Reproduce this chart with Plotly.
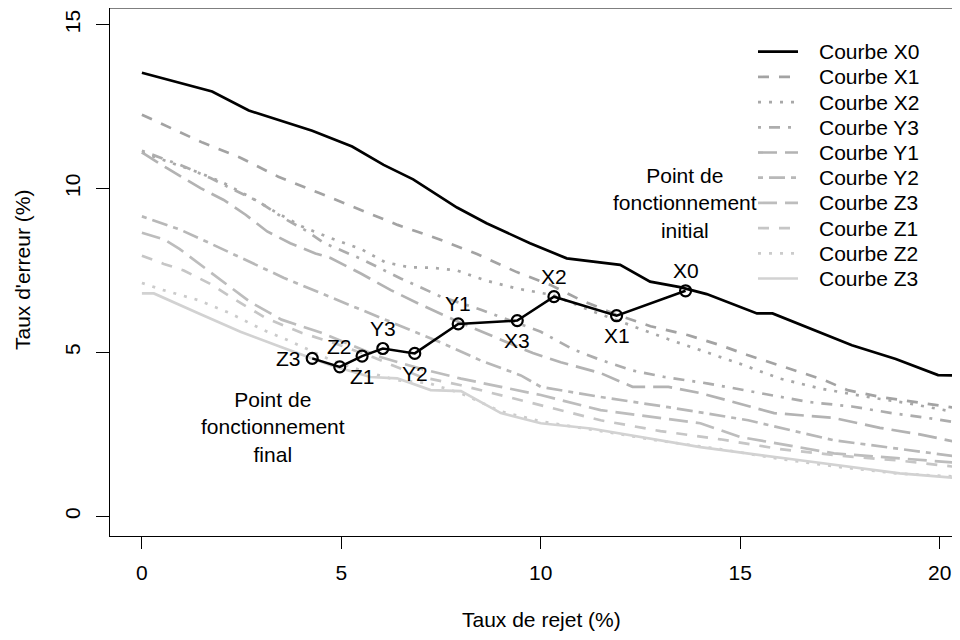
"""
Courbes taux d'erreur / taux de rejet avec points de fonctionnement
"""

import plotly.graph_objects as go

# Courbes (taux de rejet en %, taux d'erreur en %)
x0_rejet = [0, 1.76, 2.68, 4.27, 5.27, 6.06, 6.80, 7.9, 8.64, 9.73, 10.65, 11.32,
            11.99, 12.74, 13.49, 14.16, 15.42, 15.81, 17.8, 18.9, 19.96, 20.6]
x0_erreur = [13.53, 12.96, 12.38, 11.76, 11.28, 10.72, 10.28, 9.42, 8.94, 8.33, 7.87, 7.77,
             7.67, 7.16, 6.99, 6.78, 6.19, 6.19, 5.22, 4.8, 4.31, 4.29]

x1_rejet = [0, 0.54, 1.52, 2.47, 3.42, 4.43, 5.48, 6.41, 6.91, 7.5, 8.4, 9.4, 10.24,
            11.0, 11.9, 12.75, 13.68, 14.5, 15.18, 16.1, 17.1, 17.69, 18.52, 19.6, 20.6]
x1_erreur = [12.25, 11.95, 11.4, 10.94, 10.36, 9.87, 9.35, 8.89, 8.68, 8.43, 8.0, 7.45, 7.06,
             6.6, 6.15, 5.8, 5.53, 5.22, 4.92, 4.55, 4.16, 3.85, 3.64, 3.45, 3.27]

x2_rejet = [0, 0.7, 1.4, 2.0, 2.7, 3.4, 4.0, 4.7, 5.5, 6.1, 6.7, 7.3, 7.9, 8.6, 9.4,
            10.3, 11.2, 12.2, 13.2, 14.0, 15.0, 16.0, 17.0, 18.2, 19.2, 20.6]
x2_erreur = [11.1, 10.8, 10.5, 10.2, 9.75, 9.25, 8.85, 8.5, 8.15, 7.75, 7.6, 7.58, 7.5, 7.2, 6.95,
             6.75, 6.3, 5.85, 5.4, 5.07, 4.65, 4.2, 3.9, 3.64, 3.45, 3.13]

y3_rejet = [0, 0.96, 1.72, 2.22, 2.93, 3.55, 4.15, 4.56, 5.5, 6.5, 7.5, 8.5, 9.4, 10.0,
            10.8, 11.5, 12.3, 13.1, 14.2, 15.5, 16.7, 17.8, 18.8, 19.7, 20.6]
y3_erreur = [11.15, 10.72, 10.32, 10.01, 9.6, 9.1, 8.69, 8.34, 7.85, 7.25, 6.7, 6.3, 5.9, 5.63,
             5.1, 4.77, 4.45, 4.25, 4.05, 3.75, 3.49, 3.35, 3.15, 3.0, 2.83]

y1_rejet = [0, 0.63, 1.47, 2.05, 2.6, 3.14, 3.72, 4.35, 4.73, 5.5, 6.24, 7.0, 8.0, 9.0,
            9.8, 10.5, 11.5, 12.3, 13.2, 14.0, 15.85, 17.35, 18.5, 19.5, 20.6]
y1_erreur = [11.1, 10.62, 10.01, 9.65, 9.2, 8.69, 8.33, 8.02, 7.88, 7.4, 6.9, 6.45, 5.9, 5.38,
             4.98, 4.7, 4.37, 3.95, 3.95, 3.76, 3.15, 3.0, 2.7, 2.5, 2.22]

y2_rejet = [0, 0.95, 1.67, 2.2, 3.55, 4.5, 5.5, 6.5, 7.5, 8.5, 9.5, 10.0, 11.5, 13.2,
            15.2, 17.35, 20.6]
y2_erreur = [9.15, 8.75, 8.35, 8.05, 7.28, 6.8, 6.3, 5.8, 5.3, 4.75, 4.3, 3.95, 3.64, 3.33,
             2.93, 2.32, 1.8]

z3a_rejet = [0, 0.55, 0.95, 1.45, 2.0, 2.7, 3.5, 4.5, 5.0, 6.0, 7.0, 8.0, 9.0, 10.0,
             11.5, 14.0, 15.0, 17.35, 20.6]
z3a_erreur = [8.65, 8.45, 8.15, 7.7, 7.2, 6.55, 6.0, 5.6, 5.35, 4.85, 4.5, 4.2, 3.95, 3.7,
              3.24, 2.84, 2.42, 1.92, 1.62]

z1_rejet = [0, 0.55, 1.05, 1.7, 2.35, 3.1, 4.0, 4.9, 5.8, 6.3, 7.0, 8.0, 9.0, 10.0,
            11.5, 13.0, 14.5, 16.0, 17.5, 19.0, 20.6]
z1_erreur = [7.95, 7.7, 7.5, 7.1, 6.6, 6.05, 5.6, 5.25, 4.85, 4.6, 4.25, 4.0, 3.7, 3.39,
             2.93, 2.6, 2.35, 2.05, 1.85, 1.7, 1.48]

z2_rejet = [0, 0.54, 1.4, 2.2, 3.05, 3.65, 4.73, 5.5, 6.4, 7.2, 8.0, 9.0, 10.0, 11.5,
            13.0, 14.5, 16.0, 17.5, 19.0, 20.6]
z2_erreur = [7.12, 6.9, 6.6, 6.2, 5.68, 5.38, 4.77, 4.45, 4.15, 4.06, 3.75, 3.2, 2.9, 2.6,
             2.3, 2.05, 1.75, 1.5, 1.3, 1.2]

z3_rejet = [0, 0.3, 1.4, 2.47, 3.47, 4.73, 5.73, 6.4, 7.24, 8.0, 9.0, 10.0, 11.25,
            14.0, 16.5, 19.0, 20.6]
z3_erreur = [6.8, 6.8, 6.2, 5.63, 5.17, 4.61, 4.25, 4.21, 3.85, 3.82, 3.15, 2.84, 2.68,
             2.11, 1.71, 1.31, 1.15]

curve_names = ["Courbe X0", "Courbe X1", "Courbe X2", "Courbe Y3", "Courbe Y1",
               "Courbe Y2", "Courbe Z3", "Courbe Z1", "Courbe Z2", "Courbe Z3"]
curve_x = [x0_rejet, x1_rejet, x2_rejet, y3_rejet, y1_rejet,
           y2_rejet, z3a_rejet, z1_rejet, z2_rejet, z3_rejet]
curve_y = [x0_erreur, x1_erreur, x2_erreur, y3_erreur, y1_erreur,
           y2_erreur, z3a_erreur, z1_erreur, z2_erreur, z3_erreur]

# Points de fonctionnement
op_names = ["Z3", "Z2", "Z1", "Y3", "Y2", "Y1", "X3", "X2", "X1", "X0"]
op_rejet = [4.27, 4.96, 5.52, 6.04, 6.84, 7.93, 9.41, 10.33, 11.9, 13.63]
op_erreur = [4.82, 4.56, 4.89, 5.12, 4.97, 5.87, 5.97, 6.70, 6.12, 6.88]
op_pos = ["left", "above", "below", "above", "below", "above", "below", "above", "below", "above"]

x_ticks = [0, 5, 10, 15, 20]
y_ticks = [0, 5, 10, 15]

# styles (R lty 1..6 + niveaux de gris)
colors = ["#000000", "#a3a3a3", "#a8a8a8", "#adadad", "#b3b3b3",
          "#b8b8b8", "#bdbdbd", "#c6c6c6", "#cbcbcb", "#d2d2d2"]
solid = "solid"
dashed = "11px,10px"
dotted = "3px,8px"
dotdash = "3px,8px,11px,8px"
longdash = "19px,8px"
twodash = "5px,6px,16px,6px"
dashes = [solid, dashed, dotted, dotdash, longdash, twodash, longdash, dashed, dotted, solid]

FONT = "Liberation Sans, Arial, Helvetica, sans-serif"
FS = 21

# the page body has an 8px margin, so the figure is drawn 8px smaller
# and plot box positions below are given in window pixels
OFF = 8
W, H = 960 - OFF, 640 - OFF
L, R, T, B = 110, 960, OFF, 536


def px_x(p):
    return (p - L) / (R - L)


def px_y(p):
    return (B - p) / (B - T)


fig = go.Figure()

for name, xs, ys, col, dsh in zip(curve_names, curve_x, curve_y, colors, dashes):
    fig.add_trace(go.Scatter(
        x=xs, y=ys, mode="lines", name=name, showlegend=False,
        line=dict(color=col, width=2.7, dash=dsh)
    ))

fig.add_trace(go.Scatter(
    x=op_rejet, y=op_erreur, mode="lines+markers", showlegend=False,
    line=dict(color="black", width=2.5),
    marker=dict(symbol="circle-open", size=11, color="black", line=dict(width=2.2))
))

annotations = []
shift = {"left": (-24, 0), "above": (0, 20), "below": (0, -20)}
for nm, xv, yv, pos in zip(op_names, op_rejet, op_erreur, op_pos):
    dx, dy = shift[pos]
    annotations.append(dict(
        x=xv, y=yv, xref="x", yref="y", text=nm, showarrow=False,
        xshift=dx, yshift=dy, font=dict(size=FS, color="black", family=FONT)
    ))

annotations.append(dict(
    x=13.61, y=9.56, xref="x", yref="y", showarrow=False, align="center",
    xanchor="center", yanchor="middle",
    text="Point de<br>fonctionnement<br>initial",
    font=dict(size=FS, color="black", family=FONT)
))
annotations.append(dict(
    x=3.29, y=2.72, xref="x", yref="y", showarrow=False, align="center",
    xanchor="center", yanchor="middle",
    text="Point de<br>fonctionnement<br>final",
    font=dict(size=FS, color="black", family=FONT)
))

# axis titles
annotations.append(dict(
    x=px_x(541), y=px_y(619), xref="paper", yref="paper", showarrow=False,
    xanchor="center", yanchor="middle",
    text="Taux de rejet (%)", font=dict(size=FS, color="black", family=FONT)
))
annotations.append(dict(
    x=px_x(22), y=px_y(270), xref="paper", yref="paper", showarrow=False,
    xanchor="center", yanchor="middle",
    text="Taux d'erreur (%)", textangle=-90,
    font=dict(size=FS, color="black", family=FONT)
))

# legend (drawn like R's legend(bty="n"))
shapes = []
for i, (name, col, dsh) in enumerate(zip(curve_names, colors, dashes)):
    ypx = 51.7 + 25.2 * i
    shapes.append(dict(
        type="line", xref="paper", yref="paper",
        x0=px_x(758), x1=px_x(798), y0=px_y(ypx), y1=px_y(ypx),
        line=dict(color=col, width=2.7, dash=dsh)
    ))
    annotations.append(dict(
        x=px_x(817), y=px_y(ypx), xref="paper", yref="paper", showarrow=False,
        xanchor="left", yanchor="middle", text=name,
        font=dict(size=FS, color="black", family=FONT)
    ))

# top of the box (right side falls outside the picture)
shapes.append(dict(
    type="line", xref="paper", yref="paper", x0=0, x1=1, y0=1, y1=1,
    line=dict(color="black", width=1)
))

# y scale: 0 at 516.3 px, 32.78 px per unit
y_top = (516.3 - T) / 32.78

fig.update_layout(
    width=W, height=H,
    margin=dict(l=L - OFF, r=W - (R - OFF), t=T - OFF, b=H - (B - OFF), pad=0),
    plot_bgcolor="white", paper_bgcolor="white",
    font=dict(family=FONT, size=FS, color="black"),
    showlegend=False,
    annotations=annotations,
    shapes=shapes,
)

fig.update_xaxes(
    range=[-0.8, 20.51], tickvals=x_ticks, ticktext=[str(v) for v in x_ticks],
    showgrid=False, zeroline=False, showline=True, linecolor="black", linewidth=1,
    ticks="outside", ticklen=12, tickwidth=1, tickcolor="black",
    ticklabelstandoff=6, tickfont=dict(size=FS, family=FONT, color="black")
)
fig.update_yaxes(
    range=[-0.6, y_top], tickvals=y_ticks, ticktext=[str(v) for v in y_ticks],
    showgrid=False, zeroline=False, showline=True, linecolor="black", linewidth=1,
    ticks="outside", ticklen=13, tickwidth=1, tickcolor="black", tickangle=-90,
    ticklabelstandoff=8, tickfont=dict(size=FS, family=FONT, color="black")
)

fig.write_html("out.html")
